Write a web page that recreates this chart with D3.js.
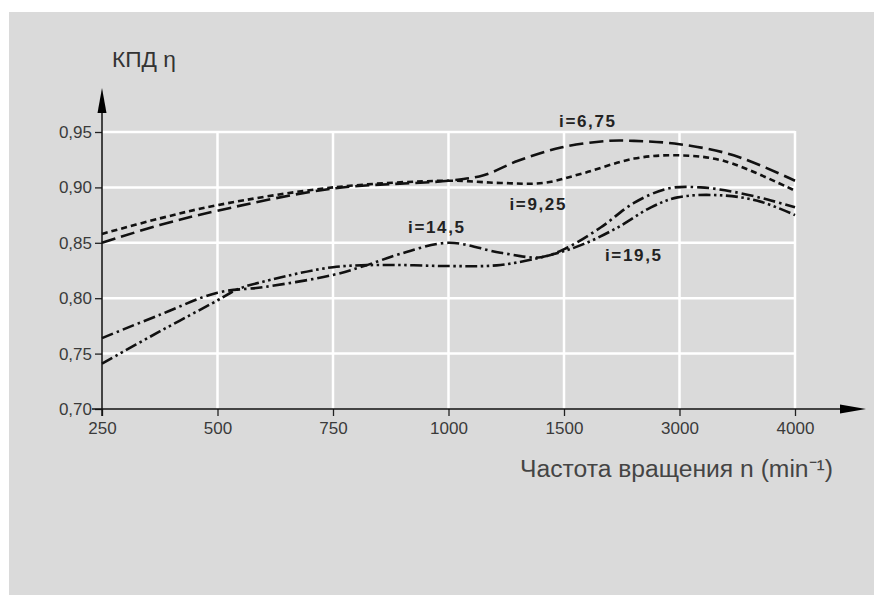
<!DOCTYPE html>
<html><head><meta charset="utf-8">
<script src="https://cdn.jsdelivr.net/npm/d3@7"></script>
<style>body{margin:0;background:#fff}svg{display:block}text{font-family:"Liberation Sans",Arial,sans-serif}</style>
</head><body><svg id="c" width="874" height="595"></svg>
<script>
const xTicks = [250, 500, 750, 1000, 1500, 3000, 4000];
const yTicks = [0.70, 0.75, 0.80, 0.85, 0.90, 0.95];
const yTitle = "КПД η";
const xTitle = "Частота вращения n (min⁻¹)";

const rpm675 = [250, 375, 500, 750, 1000, 1152, 1301, 1487, 2071, 2409, 3000, 3468, 4000];
const eta675 = [0.850, 0.866, 0.879, 0.899, 0.906, 0.911, 0.924, 0.936, 0.942, 0.942, 0.939, 0.929, 0.906];

const rpm925 = [250, 375, 500, 750, 1000, 1225, 1411, 1760, 2409, 2974, 3381, 4000];
const eta925 = [0.858, 0.872, 0.884, 0.900, 0.906, 0.904, 0.904, 0.913, 0.926, 0.929, 0.924, 0.897];

const rpm145 = [250, 375, 500, 600, 750, 817, 896, 1000, 1225, 1400, 1552, 1980, 2409, 2851, 3182, 3468, 3762, 4000];
const eta145 = [0.764, 0.785, 0.805, 0.810, 0.821, 0.829, 0.840, 0.850, 0.841, 0.837, 0.846, 0.864, 0.886, 0.899, 0.900, 0.896, 0.889, 0.882];

const rpm195 = [250, 375, 500, 543, 600, 750, 873, 1000, 1225, 1442, 1760, 2201, 2630, 2974, 3329, 3675, 4000];
const eta195 = [0.741, 0.770, 0.798, 0.808, 0.815, 0.828, 0.830, 0.829, 0.830, 0.839, 0.849, 0.864, 0.882, 0.891, 0.893, 0.888, 0.875];

const seriesNames = ["i=6,75", "i=9,25", "i=14,5", "i=19,5"];
const labelRpm = [1799, 1385, 973, 2396];
const labelEta = [0.9545, 0.8796, 0.8588, 0.8336];

const series = [
  {name: seriesNames[0], rpm: rpm675, eta: eta675, dash: "14,6"},
  {name: seriesNames[1], rpm: rpm925, eta: eta925, dash: "6,4"},
  {name: seriesNames[2], rpm: rpm145, eta: eta145, dash: "12,4,2.5,4"},
  {name: seriesNames[3], rpm: rpm195, eta: eta195, dash: "12,3.5,2.5,3.5,2.5,3.5"}
];

const svg = d3.select("#c");
svg.append("rect").attr("x", 9).attr("y", 12).attr("width", 865).attr("height", 583).attr("fill", "#dadada");

const x0 = 102, step = 115.5;
const x = d3.scaleLinear().domain(xTicks).range(xTicks.map((d, i) => x0 + i * step));
const y = d3.scaleLinear().domain([0.70, 0.95]).range([409, 132]);

const g = svg.append("g");
// grid
g.selectAll(".hg").data(yTicks.slice(1)).join("line")
  .attr("x1", x(250)).attr("x2", x(4000)).attr("y1", d => y(d)).attr("y2", d => y(d))
  .attr("stroke", "#fff").attr("stroke-width", 2.5);
g.selectAll(".vg").data(xTicks.slice(1)).join("line")
  .attr("x1", d => x(d)).attr("x2", d => x(d)).attr("y1", y(0.70)).attr("y2", y(0.95) - 1)
  .attr("stroke", "#fff").attr("stroke-width", 2.5);

// axes
const fmt = d => d3.format(".2f")(d).replace(".", ",");
const yAxis = g.append("g").attr("transform", `translate(${x(250)},0)`)
  .call(d3.axisLeft(y).tickValues(yTicks).tickFormat(fmt).tickSize(7).tickPadding(3));
const xAxis = g.append("g").attr("transform", `translate(0,${y(0.70)})`)
  .call(d3.axisBottom(x).tickValues(xTicks).tickFormat(d3.format("d")).tickSize(7).tickPadding(6));
[yAxis, xAxis].forEach(a => {
  a.select(".domain").remove();
  a.selectAll("line").attr("stroke", "#222").attr("stroke-width", 1.3);
  a.selectAll("text").attr("fill", "#3a3a3a").style("font-size", "17px").style("font-family", "'Liberation Sans',Arial,sans-serif");
});

g.append("line").attr("x1", x(250)).attr("x2", x(250)).attr("y1", y(0.70) + 7).attr("y2", 100)
  .attr("stroke", "#111").attr("stroke-width", 1.5);
g.append("line").attr("x1", x(250) - 10).attr("x2", 850).attr("y1", y(0.70)).attr("y2", y(0.70))
  .attr("stroke", "#111").attr("stroke-width", 1.5);
g.append("path").attr("d", `M${x(250)},88 L${x(250) - 4.5},113 L${x(250) + 4.5},113 Z`).attr("fill", "#000");
g.append("path").attr("d", `M866,${y(0.70)} L840,${y(0.70) - 4.5} L840,${y(0.70) + 4.5} Z`).attr("fill", "#000");

// curves
const line = d3.line().x(d => x(d[0])).y(d => y(d[1])).curve(d3.curveCatmullRom.alpha(0.5));
series.forEach(s => {
  g.append("path").datum(s.rpm.map((r, i) => [r, s.eta[i]]))
    .attr("d", line).attr("fill", "none").attr("stroke", "#111")
    .attr("stroke-width", 2.6).attr("stroke-dasharray", s.dash);
});

// series labels
seriesNames.forEach((n, i) => {
  g.append("text").attr("x", x(labelRpm[i])).attr("y", y(labelEta[i]))
    .attr("text-anchor", "middle").attr("font-weight", "bold").attr("font-size", 17)
    .attr("fill", "#222").attr("textLength", 56).attr("lengthAdjust", "spacing").text(n);
});

// titles, font size fitted to the measured width of the reference text
function fit(sel, target) {
  const w = sel.node().getComputedTextLength();
  const fs = parseFloat(sel.attr("font-size"));
  sel.attr("font-size", fs * target / w);
}
const t1 = g.append("text").attr("x", 112).attr("y", 67).attr("font-size", 17).attr("fill", "#333").text(yTitle);
fit(t1, 64);
const t2 = g.append("text").attr("x", 520).attr("y", 477).attr("font-size", 19).attr("fill", "#444").text(xTitle);
fit(t2, 313);
</script></body></html>
